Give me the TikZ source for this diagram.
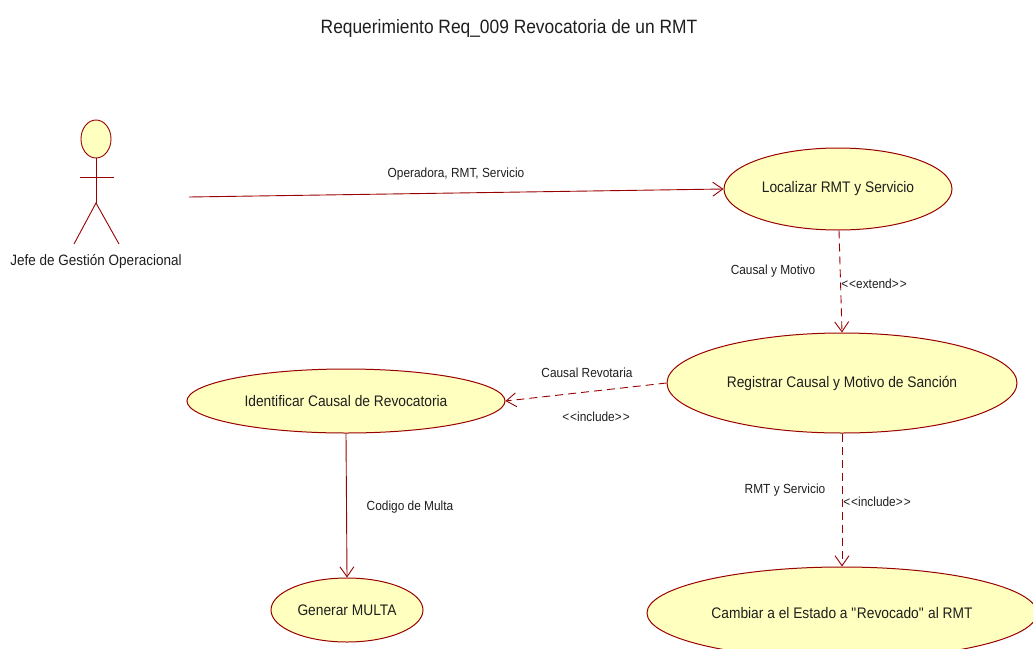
\documentclass[tikz,border=0pt]{standalone}
\usepackage{fontspec}
\setmainfont{Liberation Sans}[FakeStretch=0.9]
\usetikzlibrary{arrows.meta,shapes.geometric}
\definecolor{umlline}{RGB}{153,0,0}
\definecolor{umlfill}{RGB}{255,255,192}
\definecolor{umltext}{RGB}{30,30,30}
\newcommand{\stereo}[1]{<\kern1pt<#1>\kern1pt>}
\tikzset{
  usecase/.style={ellipse,draw=umlline,fill=umlfill,line width=1pt,inner sep=0pt,text=umltext,font=\fontsize{15.3}{17}\selectfont},
  lbl/.style={text=umltext,font=\fontsize{13.2}{15}\selectfont,inner sep=0pt},
  assoc/.style={draw=umlline,line width=0.9pt,-{Straight Barb[length=10pt,width=14pt,line width=0.9pt]}},
  depend/.style={assoc,dash pattern=on 8pt off 5pt},
  actorline/.style={draw=umlline,line width=0.9pt}
}
\begin{document}
\begin{tikzpicture}[x=1pt,y=-1pt]
\useasboundingbox (0,0) rectangle (1033,648);
\node[text=umltext,font=\fontsize{19.3}{21}\selectfont] (title) at (509,29) {Requerimiento Req\_009 Revocatoria de un RMT};
% actor
\node[ellipse,draw=umlline,fill=umlfill,line width=0.9pt,minimum width=30pt,minimum height=38pt,inner sep=0pt] (head) at (96,139) {};
\coordinate (hip) at (96,203);
\coordinate (armL) at (80,177);
\coordinate (armR) at (114,177);
\coordinate (legL) at (74,244);
\coordinate (legR) at (119,244);
\draw[actorline] (head.south) -- (hip);
\draw[actorline] (armL) -- (armR);
\draw[actorline] (legL) -- (hip) -- (legR);
\node[lbl,font=\fontsize{15}{17}\selectfont] (actorlbl) at (96,262) {Jefe de Gestión Operacional};
\coordinate (actorend) at (189,197);
% use cases
\node[usecase,minimum width=228pt,minimum height=82pt] (loc) at (838,189) {Localizar RMT y Servicio};
\node[usecase,minimum width=350pt,minimum height=100pt] (reg) at (842,383) {Registrar Causal y Motivo de Sanción};
\node[usecase,minimum width=318pt,minimum height=64pt] (ide) at (346,401) {Identificar Causal de Revocatoria};
\node[usecase,minimum width=152pt,minimum height=64pt] (gen) at (347,610) {Generar MULTA};
\node[usecase,minimum width=390pt,minimum height=92pt] (cam) at (842,613) {Cambiar a el Estado a \textquotedbl Revocado\textquotedbl{} al RMT};
% connectors
\draw[assoc] (actorend) -- (loc.west);
\node[lbl] (l1) at (456,174) {Operadora, RMT, Servicio};
\draw[depend] (loc.south) ++(1,0) coordinate (locs) (locs) -- (reg.north);
\node[lbl] (l2) at (773,271) {Causal y Motivo};
\node[lbl] (l3) at (874,284) {\stereo{extend}};
\draw[depend] (reg.west) -- (ide.east);
\node[lbl] (l4) at (587,373) {Causal Revotaria};
\node[lbl] (l5) at (596,417) {\stereo{include}};
\draw[assoc] (ide.south) -- (gen.north);
\node[lbl] (l6) at (410,507) {Codigo de Multa};
\draw[depend] (reg.south) -- (cam.north);
\node[lbl] (l7) at (785,490) {RMT y Servicio};
\node[lbl] (l8) at (877,502) {\stereo{include}};
\end{tikzpicture}
\end{document}
